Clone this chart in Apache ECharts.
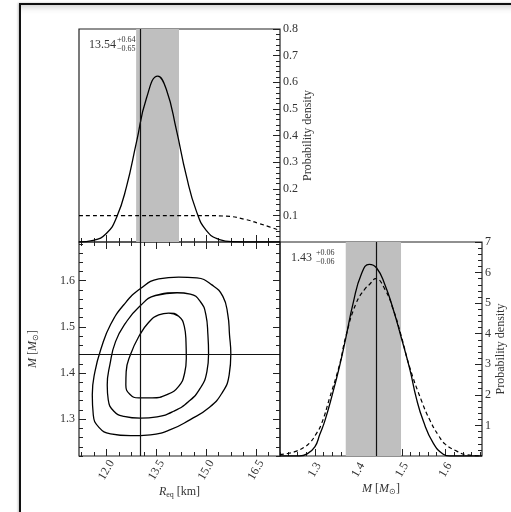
<!DOCTYPE html>
<html>
<head>
<meta charset="utf-8">
<script src="https://cdn.jsdelivr.net/npm/echarts@6/dist/echarts.min.js"></script>
<style>
  html, body { margin: 0; padding: 0; background: #fff; }
  #chart { width: 511px; height: 512px; }
  #frame {
    position: absolute; left: 19px; top: 3px; width: 640px; height: 640px;
    border: 2px solid #111; box-sizing: border-box; pointer-events: none;
    box-shadow: -1px 0 2px rgba(0,0,0,0.25), inset 0 8px 8px -8px rgba(0,0,0,0.3);
  }
</style>
</head>
<body>
<div id="chart"></div>
<div id="frame"></div>
<script>
// ---- tick positions ----
const rMajorTicks = [12.0, 13.5, 15.0, 16.5];
const mMajorTicks = [1.3, 1.4, 1.5, 1.6];
const pRMajorTicks = [0.1, 0.2, 0.3, 0.4, 0.5, 0.6, 0.7, 0.8];
const pMMajorTicks = [1, 2, 3, 4, 5, 6, 7];

// ---- axis ranges ----
const rRange = [11.17, 17.22];
const mRange = [1.22, 1.684];
const pRRange = [0, 0.8];
const pMRange = [0, 7];

// ---- equatorial radius: posterior and prior densities ----
const rPostR = [11.17, 11.6, 12.0, 12.3, 12.6, 12.9, 13.2, 13.54, 13.8, 14.1, 14.4, 14.7, 15.0, 15.4, 15.8, 16.5, 17.22];
const rPostP = [0.0, 0.006, 0.033, 0.092, 0.208, 0.375, 0.540, 0.623, 0.573, 0.422, 0.249, 0.117, 0.044, 0.009, 0.001, 0.0, 0.0];
const rPriorR = [11.17, 12.5, 14.0, 15.0, 15.6, 16.2, 16.6, 16.9, 17.22];
const rPriorP = [0.099, 0.099, 0.099, 0.099, 0.097, 0.084, 0.069, 0.057, 0.043];

// ---- mass: posterior and comparison densities ----
const mPostM = [1.22, 1.265, 1.281, 1.300, 1.3115, 1.323, 1.340, 1.357, 1.371, 1.388, 1.407, 1.425, 1.442, 1.461, 1.480, 1.498, 1.518, 1.533, 1.549, 1.572, 1.595, 1.61, 1.684];
const mPostP = [0, 0, 0.06, 0.30, 0.71, 1.15, 2.0, 2.95, 3.85, 5.0, 5.95, 6.27, 6.15, 5.6, 4.8, 3.9, 2.85, 1.9, 1.15, 0.42, 0.06, 0, 0];
const mAltM = [1.22, 1.24, 1.258, 1.275, 1.289, 1.302, 1.315, 1.334, 1.357, 1.371, 1.395, 1.417, 1.425, 1.440, 1.461, 1.480, 1.498, 1.518, 1.545, 1.565, 1.585, 1.60, 1.626, 1.648, 1.684];
const mAltP = [0.05, 0.09, 0.16, 0.28, 0.44, 0.7, 1.04, 1.9, 3.0, 3.9, 5.0, 5.5, 5.6, 5.8, 5.45, 4.8, 3.95, 2.9, 1.81, 1.15, 0.65, 0.38, 0.16, 0.04, 0.0];

// ---- joint posterior credible contours (R, M) ----
const contourOuterR = [14.17, 14.72, 15.17, 15.50, 15.65, 15.70, 15.74, 15.69, 15.47, 15.07, 14.52, 13.92, 13.32, 12.72, 12.12, 11.77, 11.60, 11.57, 11.65, 11.84, 12.12, 12.52, 13.02, 13.57];
const contourOuterM = [1.608, 1.606, 1.591, 1.566, 1.526, 1.483, 1.441, 1.396, 1.356, 1.324, 1.299, 1.277, 1.266, 1.264, 1.268, 1.282, 1.309, 1.353, 1.403, 1.454, 1.505, 1.548, 1.583, 1.604];
const contourMidR = [14.12, 14.52, 14.82, 14.99, 15.05, 15.07, 15.02, 14.82, 14.47, 14.02, 13.52, 13.02, 12.52, 12.22, 12.05, 12.02, 12.10, 12.27, 12.57, 12.99, 13.47];
const contourMidM = [1.574, 1.571, 1.555, 1.526, 1.483, 1.441, 1.403, 1.367, 1.338, 1.317, 1.305, 1.302, 1.306, 1.317, 1.342, 1.374, 1.418, 1.468, 1.508, 1.544, 1.568];
const contourInnerR = [13.87, 14.17, 14.34, 14.39, 14.40, 14.35, 14.17, 13.82, 13.37, 12.97, 12.70, 12.58, 12.59, 12.72, 12.97, 13.27, 13.57];
const contourInnerM = [1.530, 1.523, 1.501, 1.468, 1.432, 1.400, 1.371, 1.353, 1.346, 1.346, 1.354, 1.374, 1.403, 1.440, 1.479, 1.510, 1.526];

// ---- injected values and credible intervals: [median, minus, plus] ----
const truthR = 13.0;
const truthM = 1.44;
const rSummary = [13.54, 0.65, 0.64];
const mSummary = [1.434, 0.063, 0.064];

// ---- styling ----
const FONT = 'Liberation Serif';
const INK = '#222';
const TXT = '#333';

const pairs = (xs, ys) => xs.map((x, i) => [x, ys[i]]);
// closed path; the seam is wrapped by one point on each side so smoothing stays continuous
const loop = (xs, ys) => {
  const p = pairs(xs, ys);
  return [p[p.length - 1]].concat(p, [p[0], p[1]]);
};

function minorTicks(start, step, range, majors) {
  const out = [];
  for (let k = 0; ; k++) {
    const v = Math.round((start + k * step) * 10000) / 10000;
    if (v > range[1] + 1e-9) break;
    if (v < range[0] - 1e-9) continue;
    if (majors.some(m => Math.abs(m - v) < step / 10)) continue;
    out.push(v);
  }
  return out;
}

const rMinor = minorTicks(11.25, 0.375, rRange, rMajorTicks);
const mMinor = minorTicks(1.22, 0.02, mRange, mMajorTicks);
const pRMinor = minorTicks(0.02, 0.02, pRRange, pRMajorTicks);
const pMMinor = minorTicks(0.2, 0.2, pMRange, pMMajorTicks);

function tickAxis(grid, pos, range, ticks, len, extra) {
  const ax = {
    type: 'value', gridIndex: grid, position: pos,
    min: range[0], max: range[1],
    axisLine: { show: false },
    splitLine: { show: false },
    axisTick: { show: true, inside: true, length: len, customValues: ticks,
                lineStyle: { color: INK, width: 1 } },
    axisLabel: { show: false, customValues: ticks }
  };
  if (extra) {
    if (extra.label) Object.assign(ax.axisLabel, { show: true, color: TXT, fontFamily: FONT, fontSize: 12 }, extra.label);
    if (extra.name) {
      ax.name = extra.name;
      ax.nameLocation = 'middle';
      ax.nameGap = extra.nameGap;
      ax.nameRotate = extra.nameRotate;
      ax.nameTextStyle = {
        color: TXT, fontFamily: FONT, fontSize: 12,
        rich: {
          i: { fontStyle: 'italic', fontFamily: FONT, fontSize: 12, color: TXT },
          s: { fontFamily: FONT, fontSize: 8, color: TXT, verticalAlign: 'bottom', padding: [6, 0, 0, 0] }
        }
      };
    }
  }
  return ax;
}

const MAJ = 7, MIN = 4;
const massName = '{i|M} [{i|M}{s|\u2299}]';

const xAxes = [
  tickAxis(0, 'bottom', rRange, rMajorTicks, MAJ),
  tickAxis(0, 'bottom', rRange, rMinor, MIN),
  tickAxis(1, 'bottom', rRange, rMajorTicks, MAJ, {
    label: { rotate: 60, align: 'center', verticalAlign: 'middle', margin: 14, formatter: v => v.toFixed(1) },
    name: '{i|R}{s|eq} [km]', nameGap: 25
  }),
  tickAxis(1, 'bottom', rRange, rMinor, MIN),
  tickAxis(1, 'top', rRange, rMajorTicks, MAJ),
  tickAxis(1, 'top', rRange, rMinor, MIN),
  tickAxis(2, 'bottom', mRange, mMajorTicks, MAJ, {
    label: { rotate: 60, align: 'center', verticalAlign: 'middle', margin: 14, formatter: v => v.toFixed(1) },
    name: massName, nameGap: 20
  }),
  tickAxis(2, 'bottom', mRange, mMinor, MIN)
];

const yAxes = [
  tickAxis(0, 'right', pRRange, pRMajorTicks, MAJ, {
    label: { margin: 3, formatter: v => v.toFixed(1) },
    name: 'Probability density', nameGap: 20, nameRotate: 90
  }),
  tickAxis(0, 'right', pRRange, pRMinor, MIN),
  tickAxis(1, 'left', mRange, mMajorTicks, MAJ, {
    label: { margin: 4, formatter: v => v.toFixed(1) },
    name: massName, nameGap: 39, nameRotate: 90
  }),
  tickAxis(1, 'left', mRange, mMinor, MIN),
  tickAxis(1, 'right', mRange, mMajorTicks, MAJ),
  tickAxis(1, 'right', mRange, mMinor, MIN),
  tickAxis(2, 'right', pMRange, pMMajorTicks, MAJ, {
    label: { margin: 3, formatter: v => String(v) },
    name: 'Probability density', nameGap: 13, nameRotate: 90
  }),
  tickAxis(2, 'right', pMRange, pMMinor, MIN)
];

const gridBorder = { show: true, borderColor: INK, borderWidth: 1.2, backgroundColor: 'transparent' };

const solid = { color: '#000', width: 1.3 };
const dashed = { color: '#000', width: 1.2, type: [4, 3] };
const truthLine = (axisKey, value) => ({
  symbol: 'none', silent: true, label: { show: false },
  lineStyle: { color: '#111', width: 1.2, type: 'solid' },
  data: [{ [axisKey]: value }]
});
const band = (lo, hi) => ({
  silent: true, itemStyle: { color: '#bfbfbf', opacity: 1 },
  data: [[{ xAxis: lo }, { xAxis: hi }]]
});

function densityLine(xi, yi, data, style, z) {
  return {
    type: 'line', xAxisIndex: xi, yAxisIndex: yi, data: data,
    showSymbol: false, smooth: 0.5,
    lineStyle: style, z: z, silent: true
  };
}
function contourLine(data) {
  return {
    type: 'line', xAxisIndex: 2, yAxisIndex: 2, data: data,
    showSymbol: false, smooth: 0.5, lineStyle: solid, z: 3, silent: true
  };
}

const rLo = rSummary[0] - rSummary[1], rHi = rSummary[0] + rSummary[2];
const mLo = mSummary[0] - mSummary[1], mHi = mSummary[0] + mSummary[2];

const series = [
  // radius marginal
  { type: 'line', xAxisIndex: 0, yAxisIndex: 0, data: [], z: 1, markArea: band(rLo, rHi) },
  densityLine(0, 0, pairs(rPriorR, rPriorP), dashed, 3),
  Object.assign(densityLine(0, 0, pairs(rPostR, rPostP), solid, 4), { markLine: truthLine('xAxis', truthR) }),
  // joint contours
  contourLine(loop(contourOuterR, contourOuterM)),
  contourLine(loop(contourMidR, contourMidM)),
  Object.assign(contourLine(loop(contourInnerR, contourInnerM)), {
    markLine: {
      symbol: 'none', silent: true, label: { show: false },
      lineStyle: { color: '#111', width: 1.2, type: 'solid' },
      data: [{ xAxis: truthR }, { yAxis: truthM }]
    }
  }),
  // mass marginal
  { type: 'line', xAxisIndex: 6, yAxisIndex: 6, data: [], z: 1, markArea: band(mLo, mHi) },
  densityLine(6, 6, pairs(mAltM, mAltP), dashed, 3),
  Object.assign(densityLine(6, 6, pairs(mPostM, mPostP), solid, 4), { markLine: truthLine('xAxis', truthM) })
];

// credible interval annotations
function summaryText(x, y, s) {
  const f = v => v.toFixed(2);
  const base = { fontFamily: FONT, fill: TXT };
  return {
    type: 'group', x: x, y: y, silent: true,
    children: [
      { type: 'text', x: 0, y: 0, style: Object.assign({ text: f(s[0]), fontSize: 12, align: 'left', verticalAlign: 'middle' }, base) },
      { type: 'text', x: s[0] >= 10 ? 28 : 25, y: -5, style: Object.assign({ text: '+' + f(s[2]), fontSize: 8, align: 'left', verticalAlign: 'middle' }, base) },
      { type: 'text', x: s[0] >= 10 ? 28 : 25, y: 4, style: Object.assign({ text: '\u2212' + f(s[1]), fontSize: 8, align: 'left', verticalAlign: 'middle' }, base) }
    ]
  };
}

const chart = echarts.init(document.getElementById('chart'), null, { renderer: 'canvas' });
chart.setOption({
  animation: false,
  backgroundColor: '#fff',
  textStyle: { fontFamily: FONT },
  grid: [
    Object.assign({ left: 79, top: 29, width: 201, height: 213 }, gridBorder),
    Object.assign({ left: 79, top: 242, width: 201, height: 214 }, gridBorder),
    Object.assign({ left: 280, top: 242, width: 202, height: 214 }, gridBorder)
  ],
  xAxis: xAxes,
  yAxis: yAxes,
  series: series,
  graphic: [
    summaryText(89, 45, rSummary),
    summaryText(291, 258, mSummary)
  ]
});
</script>
</body>
</html>
